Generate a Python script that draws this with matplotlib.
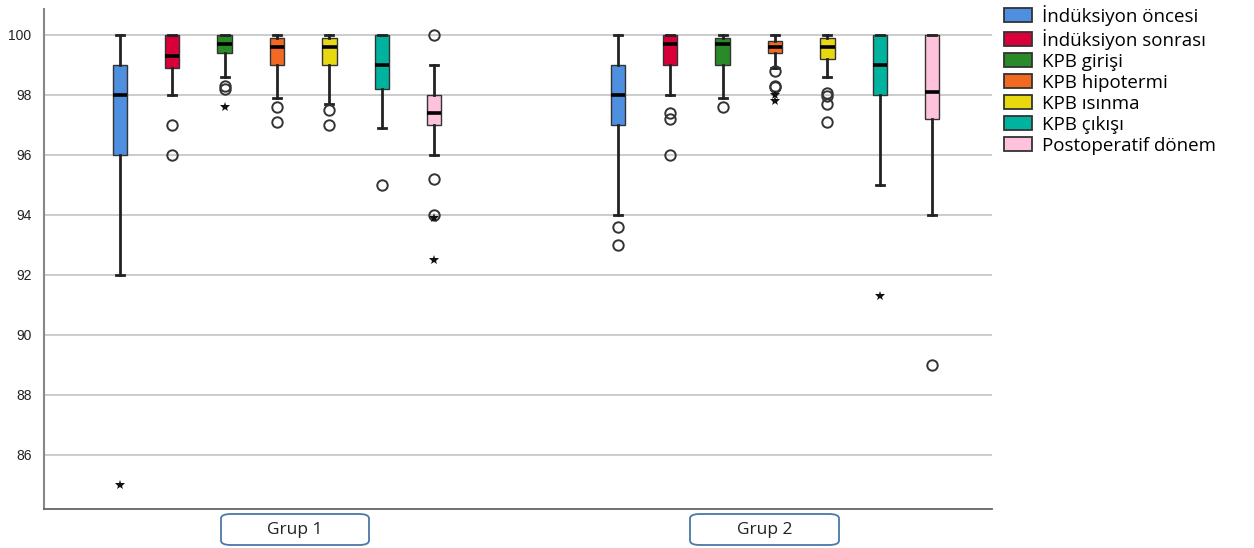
import matplotlib.pyplot as plt
from matplotlib.patches import FancyBboxPatch, Patch

series = ['İndüksiyon öncesi', 'İndüksiyon sonrası', 'KPB girişi', 'KPB hipotermi',
          'KPB ısınma', 'KPB çıkışı', 'Postoperatif dönem']
colors = ['#4f8fe0', '#d9003a', '#2a8a2a', '#f26a22', '#e8d810', '#00b39f', '#ffc2dd']
groups = ['Grup 1', 'Grup 2']

# box statistics per group: (whislo, q1, med, q3, whishi)
g1_stats = [(92.0, 96.0, 98.0, 99.0, 100.0),
            (98.0, 98.9, 99.3, 100.0, 100.0),
            (98.6, 99.4, 99.7, 100.0, 100.0),
            (97.9, 99.0, 99.6, 99.9, 100.0),
            (97.7, 99.0, 99.6, 99.9, 100.0),
            (96.9, 98.2, 99.0, 100.0, 100.0),
            (96.0, 97.0, 97.4, 98.0, 99.0)]
g2_stats = [(94.0, 97.0, 98.0, 99.0, 100.0),
            (98.0, 99.0, 99.7, 100.0, 100.0),
            (97.9, 99.0, 99.7, 99.9, 100.0),
            (98.9, 99.4, 99.6, 99.8, 100.0),
            (98.6, 99.2, 99.6, 99.9, 100.0),
            (95.0, 98.0, 99.0, 100.0, 100.0),
            (94.0, 97.2, 98.1, 100.0, 100.0)]

# outliers (circles) and extremes (stars)
g1_circles = [[], [97.0, 96.0], [98.3, 98.2], [97.6, 97.1], [97.5, 97.0], [95.0], [100.0, 95.2, 94.0]]
g1_stars = [[85.0], [], [97.6], [], [], [], [93.9, 92.5]]
g2_circles = [[93.6, 93.0], [97.4, 97.2, 96.0], [97.6], [98.8, 98.3, 98.25], [98.05, 97.95, 97.7, 97.1], [], [89.0]]
g2_stars = [[], [], [], [98.0, 97.8], [], [91.3], []]

yticks = [86, 88, 90, 92, 94, 96, 98, 100]

plt.rcParams['font.family'] = ['Open Sans', 'DejaVu Sans']

fig = plt.figure(figsize=(12.54, 5.48), dpi=100)
ax = fig.add_axes([44 / 1254, 1 - 509 / 548, 948 / 1254, 500 / 548])

group_x = [1.0, 2.0]
step = 0.1052
for gx, stats, circ, stars in zip(group_x, [g1_stats, g2_stats],
                                  [g1_circles, g2_circles], [g1_stars, g2_stars]):
    for i, (st, col) in enumerate(zip(stats, colors)):
        x = gx + (i - 3) * step
        d = dict(whislo=st[0], q1=st[1], med=st[2], q3=st[3], whishi=st[4], fliers=[])
        ax.bxp([d], positions=[x], widths=0.029, patch_artist=True, showfliers=False,
               boxprops=dict(facecolor=col, edgecolor='#333333', linewidth=1.0),
               medianprops=dict(color='black', linewidth=2.6),
               whiskerprops=dict(color='#222222', linewidth=2.0),
               capprops=dict(color='#222222', linewidth=2.0),
               capwidths=0.016, manage_ticks=False, zorder=3)
        if circ[i]:
            ax.plot([x] * len(circ[i]), circ[i], 'o', ms=7.5, mfc='none', mec='#333333',
                    mew=1.4, zorder=4)
        if stars[i]:
            ax.plot([x] * len(stars[i]), stars[i], '*', ms=7, color='#111111', mew=0, zorder=4)

ax.set_xlim(1 - 233 / 498, 1 + 715 / 498)
ax.set_ylim(84.2, 100.85)
ax.set_yticks(yticks)
ax.set_yticklabels([str(t) for t in yticks], fontsize=10, family='Liberation Sans', color='#222222')
ax.set_xticks([])
ax.yaxis.grid(True, color='#c4c4c4', linewidth=1.2, zorder=0)
ax.set_axisbelow(True)
ax.tick_params(axis='y', length=0, pad=9)
for s in ['top', 'right']:
    ax.spines[s].set_visible(False)
ax.spines['left'].set_color('#888888')
ax.spines['left'].set_linewidth(1.5)
ax.spines['bottom'].set_color('#666666')
ax.spines['bottom'].set_linewidth(1.3)

# group labels in rounded boxes under the axis
for name, (x0, x1) in zip(groups, [(221, 369), (690, 839)]):
    bx = FancyBboxPatch((x0 / 1254, 1 - 545 / 548), (x1 - x0) / 1254, 31 / 548,
                        boxstyle='round,pad=0,rounding_size=0.008', transform=fig.transFigure,
                        facecolor='white', edgecolor='#4a78a8', linewidth=1.3)
    fig.patches.append(bx)
    fig.text((x0 + x1) / 2 / 1254, 1 - 530 / 548, name, ha='center', va='center',
             fontsize=12.5, color='#222222')

handles = [Patch(facecolor=c, edgecolor='#333333', linewidth=1.3) for c in colors]
fig.legend(handles, series, loc='upper left', bbox_to_anchor=(993 / 1254, 1.012),
           frameon=False, fontsize=13.5, handlelength=1.5, handleheight=0.78,
           labelspacing=0.16, handletextpad=0.5, borderaxespad=0.2)

fig.savefig('out.png', dpi=100)
